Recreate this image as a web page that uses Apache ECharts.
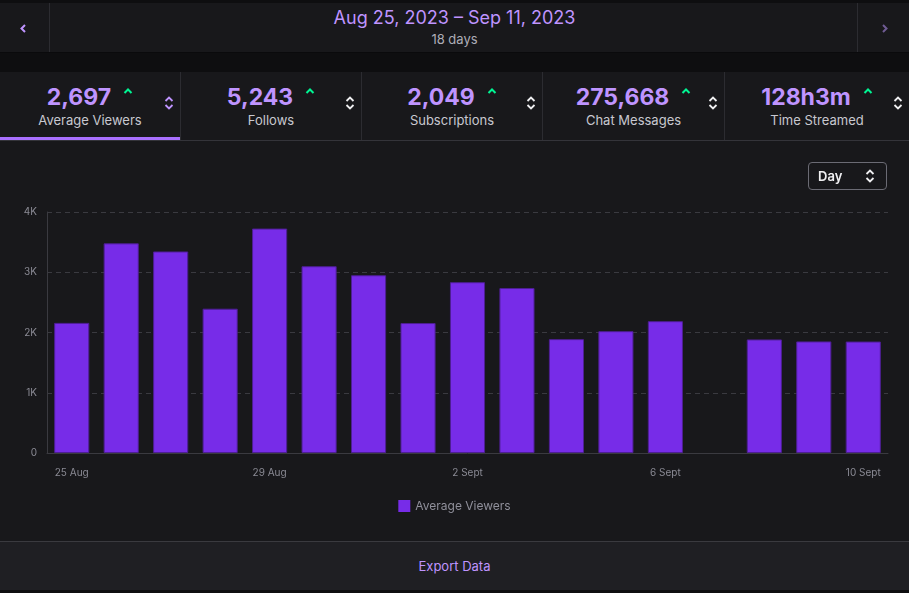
<!DOCTYPE html>
<html>
<head>
<meta charset="utf-8">
<script src="https://cdn.jsdelivr.net/npm/echarts@6/dist/echarts.min.js"></script>
<style>
  html, body { margin: 0; padding: 0; width: 909px; height: 593px; overflow: hidden; background: #0e0e10; font-family: Inter, "Noto Sans", sans-serif; }
  #hdr { position: absolute; left: 0; top: 3px; width: 909px; height: 49px; background: #18181b; border-bottom: 1px solid #0a0a0c; }
  #hdr .lbtn { position: absolute; left: 0; top: 0; width: 49px; height: 49px; border-right: 1px solid #2c2c31; }
  #hdr .rbtn { position: absolute; right: 0; top: 0; width: 51px; height: 49px; border-left: 1px solid #2c2c31; }
  #hdr .lbtn svg, #hdr .rbtn svg { position: absolute; top: 21px; }
  #title { position: absolute; left: 0; width: 909px; top: 3px; text-align: center; color: #bf94ff; font-size: 18px; line-height: 24px; }
  #sub { position: absolute; left: 0; width: 909px; top: 28px; text-align: center; color: #adadb8; font-size: 13px; line-height: 16px; }
  #stats { position: absolute; left: 0; top: 72px; width: 909px; height: 68px; background: #18181b; border-bottom: 1px solid #34343a; }
  .tab { position: absolute; top: 0; height: 68px; border-right: 1px solid #2c2c31; box-sizing: border-box; }
  .tab .val { position: absolute; left: 0; right: 0; top: 11px; text-align: center; font-size: 23px; font-weight: 700; color: #bf94ff; line-height: 28px; white-space: nowrap; }
  .tab .val svg { margin-left: 12px; vertical-align: 11px; }
  .tab .lab { position: absolute; left: 0; right: 0; top: 40px; text-align: center; font-size: 13px; color: #c8c8d0; line-height: 16px; }
  .tab .sort { position: absolute; right: 6px; top: 24px; }
  .tab.active .bar { position: absolute; left: 0; right: 0; bottom: 0; height: 3px; background: #a970ff; }
  #chartbox { position: absolute; left: 0; top: 141px; width: 909px; height: 400px; background: #18181b; }
  #chart { position: absolute; left: 0; top: 0; width: 909px; height: 400px; }
  #day { position: absolute; left: 808px; top: 21px; width: 77px; height: 26px; border: 1px solid #6b6b74; border-radius: 4px; box-sizing: content-box; color: #efeff1; font-size: 13px; font-weight: 600; line-height: 26px; }
  #day span { position: absolute; left: 9px; }
  #day svg { position: absolute; left: 56px; top: 6px; }
  #foot { position: absolute; left: 0; top: 541px; width: 909px; height: 48px; background: #1f1f23; border-top: 1px solid #3a3a3f; }
  #foot div { position: absolute; left: 0; width: 909px; top: 16px; text-align: center; color: #bf94ff; font-size: 13px; line-height: 16px; }
</style>
</head>
<body>
<div id="hdr">
  <div class="lbtn"><svg style="left:20px" width="6" height="9" viewBox="0 0 6 9"><polyline points="5,1 1.5,4.5 5,8" fill="none" stroke="#bf94ff" stroke-width="2"/></svg></div>
  <div id="title">Aug 25, 2023 – Sep 11, 2023</div>
  <div id="sub">18 days</div>
  <div class="rbtn"><svg style="left:24px" width="6" height="9" viewBox="0 0 6 9"><polyline points="1,1 4.5,4.5 1,8" fill="none" stroke="#6f5b93" stroke-width="2"/></svg></div>
</div>
<div id="stats"></div>
<div id="chartbox">
  <div id="chart"></div>
  <div id="day"><span>Day</span><svg width="10" height="14" viewBox="0 0 10 14"><polyline points="1.5,5 5,1.5 8.5,5" fill="none" stroke="#efeff1" stroke-width="1.8"/><polyline points="1.5,9 5,12.5 8.5,9" fill="none" stroke="#efeff1" stroke-width="1.8"/></svg></div>
</div>
<div id="foot"><div>Export Data</div></div>
<script>
// ---- data ----
var statValues = ['2,697', '5,243', '2,049', '275,668', '128h3m'];
var statLabels = ['Average Viewers', 'Follows', 'Subscriptions', 'Chat Messages', 'Time Streamed'];
var categories = ['25 Aug', '26 Aug', '27 Aug', '28 Aug', '29 Aug', '30 Aug', '31 Aug',
  '1 Sept', '2 Sept', '3 Sept', '4 Sept', '5 Sept', '6 Sept', '7 Sept', '8 Sept', '9 Sept', '10 Sept'];
var averageViewers = [2160, 3480, 3345, 2395, 3725, 3100, 2950, 2157, 2835, 2738, 1890, 2022, 2188, null, 1885, 1852, 1850];
var yTicks = [0, 1000, 2000, 3000, 4000];
var yTickLabels = ['0', '1K', '2K', '3K', '4K'];

// ---- stat tabs ----
var stats = document.getElementById('stats');
var tabLefts = [0, 181, 362, 543, 725, 909];
for (var i = 0; i < statValues.length; i++) {
  var t = document.createElement('div');
  t.className = 'tab' + (i === 0 ? ' active' : '');
  t.style.left = tabLefts[i] + 'px';
  t.style.width = (tabLefts[i + 1] - tabLefts[i]) + 'px';
  if (i === 4) t.style.borderRight = 'none';
  var sc = i === 0 ? '#bf94ff' : '#efeff1';
  t.innerHTML = '<div class="val">' + statValues[i] +
    '<svg width="10" height="6" viewBox="0 0 10 6"><polyline points="1.5,5 5,1.5 8.5,5" fill="none" stroke="#00f593" stroke-width="2"/></svg></div>' +
    '<div class="lab">' + statLabels[i] + '</div>' +
    '<svg class="sort" width="10" height="14" viewBox="0 0 10 14"><polyline points="1.5,5 5,1.5 8.5,5" fill="none" stroke="' + sc + '" stroke-width="1.8"/><polyline points="1.5,9 5,12.5 8.5,9" fill="none" stroke="' + sc + '" stroke-width="1.8"/></svg>' +
    '<div class="bar"></div>';
  stats.appendChild(t);
}

// ---- chart ----
var chart = echarts.init(document.getElementById('chart'), null, { renderer: 'canvas' });
chart.setOption({
  backgroundColor: 'transparent',
  animation: false,
  textStyle: { fontFamily: 'Inter, "Noto Sans", sans-serif' },
  grid: { left: 47, right: 21, top: 71, bottom: 88, containLabel: false },
  legend: {
    bottom: 24,
    left: 'center',
    itemWidth: 12,
    itemHeight: 12,
    icon: 'rect',
    itemGap: 10,
    itemStyle: { borderWidth: 0, color: '#772ce8' },
    textStyle: { color: '#8f8f9a', fontSize: 12 },
    data: ['Average Viewers']
  },
  xAxis: {
    type: 'category',
    data: categories,
    axisLine: { show: true, lineStyle: { color: '#3a3a40', width: 1 } },
    axisTick: { show: false },
    axisLabel: { color: '#8a8a94', fontSize: 10, margin: 15, interval: 3 },
    splitLine: { show: false }
  },
  yAxis: {
    type: 'value',
    min: yTicks[0],
    max: yTicks[yTicks.length - 1],
    interval: yTicks[1] - yTicks[0],
    axisLine: { show: true, lineStyle: { color: '#3a3a40', width: 1 } },
    axisTick: { show: false },
    axisLabel: {
      color: '#8a8a94', fontSize: 10, margin: 10,
      formatter: function (v) { var k = yTicks.indexOf(v); return k >= 0 ? yTickLabels[k] : ''; }
    },
    splitLine: { show: true, lineStyle: { color: '#3a3a40', type: [5, 4], width: 1 } }
  },
  series: [{
    name: 'Average Viewers',
    type: 'bar',
    data: averageViewers,
    barWidth: '71%',
    itemStyle: { color: '#772ce8', borderColor: '#4e1f94', borderWidth: 1 }
  }]
});
</script>
</body>
</html>
